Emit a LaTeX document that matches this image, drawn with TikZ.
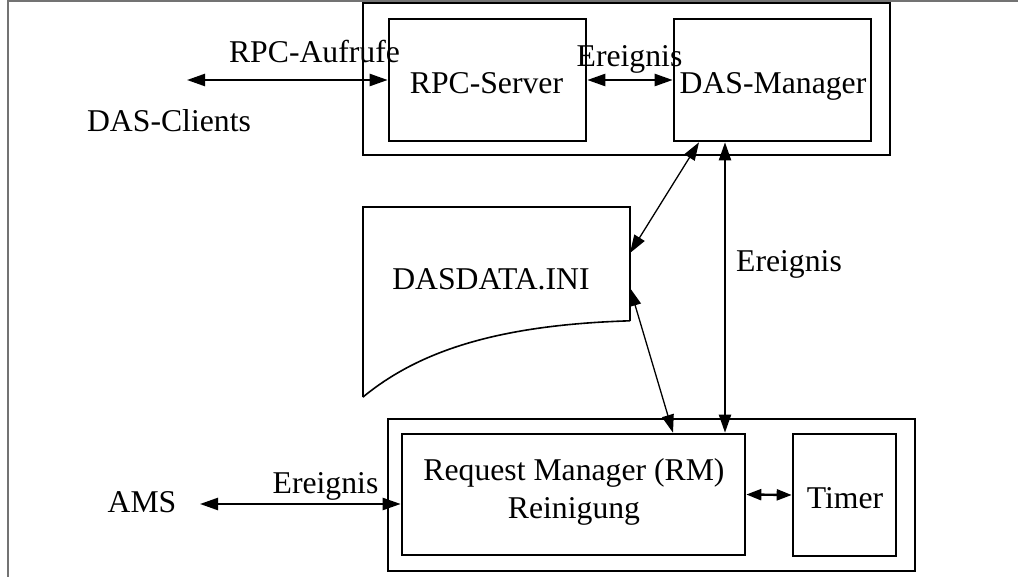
\documentclass[tikz,border=0pt]{standalone}
\usepackage{fontspec}
\setmainfont{Liberation Serif}
\usetikzlibrary{arrows.meta,calc}
\begin{document}
\begin{tikzpicture}[x=1pt,y=-1pt,
  box/.style={draw,line width=2.6pt,inner sep=0pt},
  lbl/.style={anchor=base,inner sep=0pt,font=\fontsize{31.7}{38}\selectfont},
  link/.style={line width=2.4pt,{Triangle[length=18pt,width=12pt]}-{Triangle[length=18pt,width=12pt]}},
  thin link/.style={line width=1.3pt,{Triangle[length=18pt,width=12pt]}-{Triangle[length=18pt,width=12pt]}},
  short link/.style={line width=2.4pt,{Triangle[length=15pt,width=11pt]}-{Triangle[length=15pt,width=11pt]}},
  frame/.style={draw=black!55,line width=1.5pt}]
\useasboundingbox (0,0) rectangle (1018,577);
% page frame (top and left edges only)
\draw[frame] (8,577) -- (8,1) -- (1018,1);

% upper group: RPC server and DAS manager
\node[box,minimum width=527pt,minimum height=152pt] (top) at (626.5,79) {};
\node[box,minimum width=197pt,minimum height=122pt] (rpc) at (487.5,80) {};
\node[box,minimum width=197pt,minimum height=122pt] (dasm) at (772.5,80) {};

% lower group: request manager and timer
\node[box,minimum width=527pt,minimum height=152pt] (bottom) at (651.5,495) {};
\node[box,minimum width=343pt,minimum height=121pt] (rm) at (573.5,494.5) {};
\node[box,minimum width=103pt,minimum height=122pt] (timer) at (844.5,495) {};

% configuration file (document shape)
\node[inner sep=0pt,minimum width=267pt,minimum height=190pt] (ini) at (496.5,302) {};
\draw[line width=2.4pt] (ini.south west) |- (ini.north east) -- ++(0,114) coordinate (inicurl);
\draw[line width=1.6pt] (inicurl) .. controls +(-130,4) and (420,350) .. (ini.south west);

% texts
\node[lbl] (tAufrufe) at (314.5,63) {RPC-Aufrufe};
\node[lbl] (tClients) at (169,132) {DAS-Clients};
\node[lbl] (tRpc) at (486.5,94) {RPC-Server};
\node[lbl] (tEv1) at (629.5,67) {Ereignis};
\node[lbl] (tDasm) at (773,94) {DAS-Manager};
\node[lbl] (tIni) at (491,290) {DASDATA.INI};
\node[lbl] (tEv2) at (789,272) {Ereignis};
\node[lbl] (tAms) at (142,512) {AMS};
\node[lbl] (tEv3) at (325.5,493) {Ereignis};
\node[lbl] (tRm1) at (574,480) {Request Manager (RM)};
\node[lbl] (tRm2) at (574,518) {Reinigung};
\node[lbl] (tTimer) at (845,508) {Timer};

% connector end points
\coordinate (cl) at (187,80);
\coordinate (ams) at (200,504);
\coordinate (iniA) at (630,253);
\coordinate (iniB) at (630,288);
\coordinate (vx) at (725,0);
\coordinate (dx) at (699,0);
\coordinate (rx) at (673,0);

% connectors
\draw[link] (cl) -- (rpc.west);
\draw[link] (rpc.east) -- (dasm.west);
\draw[thin link] (dx |- dasm.south) -- (iniA);
\draw[link,line width=2.2pt] (vx |- dasm.south) -- (vx |- rm.north);
\draw[thin link] (iniB) -- (rx |- rm.north);
\draw[link] (ams) -- (ams -| rm.west);
\draw[short link] (rm.east) -- (timer.west);
\end{tikzpicture}
\end{document}
